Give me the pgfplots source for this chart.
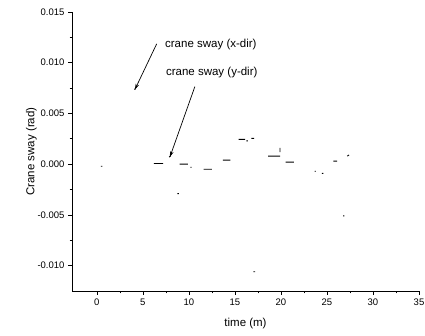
\documentclass[border=0pt]{standalone}
\usepackage{pgfplots}
\pgfplotsset{compat=1.18}
\usepackage{fontspec}
\setmainfont{Liberation Sans}
\usetikzlibrary{arrows.meta}
\begin{document}
\begin{tikzpicture}
\begin{axis}[
  scale only axis,
  width=347pt, height=279pt,
  xmin=-2.7, xmax=35, ymin=-0.0125, ymax=0.015,
  axis lines*=left,
  axis line style={-, line width=0.9pt},
  tick align=outside,
  major tick length=4pt, minor tick length=2.5pt,
  tick style={black, line width=0.7pt},
  xtick={0,5,...,35},
  minor xtick={2.5,7.5,...,32.5},
  ytick={-0.010,-0.005,0,0.005,0.010,0.015},
  yticklabels={-0.010,-0.005,0.000,0.005,0.010,0.015},
  minor ytick={-0.0075,-0.0025,0.0025,0.0075,0.0125},
  scaled y ticks=false,
  /pgf/number format/assume math mode=true,
  tick label style={font=\fontsize{9.5}{11}\selectfont},
  label style={font=\fontsize{11.5}{13}\selectfont},
  xlabel={time (m)},
  ylabel={Crane sway (rad)},
  xlabel style={yshift=-6pt},
  ylabel style={yshift=-6pt},
  unbounded coords=jump,
  clip=false,
]
\coordinate (SW) at (rel axis cs:0,0);
\addplot[black, line width=0.9pt] coordinates {
(0.45,-0.0002) (0.6,-0.0002) (nan,nan)
(6.2,0.00007) (7.2,0.00007) (nan,nan)
(7.85,0.0007) (8.0,0.0008) (nan,nan)
(9.0,0.0) (9.9,0.0) (nan,nan)
(10.15,-0.0003) (10.3,-0.0003) (nan,nan)
(11.6,-0.0005) (12.5,-0.0005) (nan,nan)
(13.7,0.0004) (14.5,0.0004) (nan,nan)
(15.4,0.00245) (16.1,0.00245) (nan,nan)
(16.25,0.0023) (16.4,0.0023) (nan,nan)
(16.8,0.00255) (17.1,0.00255) (nan,nan)
(18.6,0.0008) (19.9,0.0008) (nan,nan)
(19.9,0.0012) (19.9,0.0016) (nan,nan)
(20.5,0.0002) (21.4,0.0002) (nan,nan)
(23.65,-0.0007) (23.8,-0.0007) (nan,nan)
(24.45,-0.0009) (24.6,-0.0009) (nan,nan)
(25.7,0.0003) (26.1,0.0003) (nan,nan)
(27.2,0.0008) (27.4,0.0009) (nan,nan)
(26.75,-0.0051) (26.9,-0.0051) (nan,nan)
(17.0,-0.0106) (17.2,-0.0106) (nan,nan)
(8.75,-0.0029) (8.9,-0.0029) (nan,nan)
(4.05,0.0074) (4.2,0.0074)
};
\node[anchor=west, inner sep=0pt, font=\fontsize{11.5}{13}\selectfont] at (axis cs:7.4,0.01176) {crane sway (x-dir)};
\node[anchor=west, inner sep=0pt, font=\fontsize{11.5}{13}\selectfont] at (axis cs:7.5,0.0090) {crane sway (y-dir)};
\draw[-{Stealth[length=6pt,width=3.5pt]}, line width=0.7pt] (axis cs:6.5,0.01186) -- (axis cs:4.13,0.00735);
\draw[-{Stealth[length=6pt,width=3.5pt]}, line width=0.7pt] (axis cs:10.65,0.00765) -- (axis cs:7.93,0.00069);
\end{axis}
\pgfresetboundingbox
\path (SW) ++(-72pt,-45pt) rectangle ++(425pt,336pt);
\end{tikzpicture}
\end{document}
